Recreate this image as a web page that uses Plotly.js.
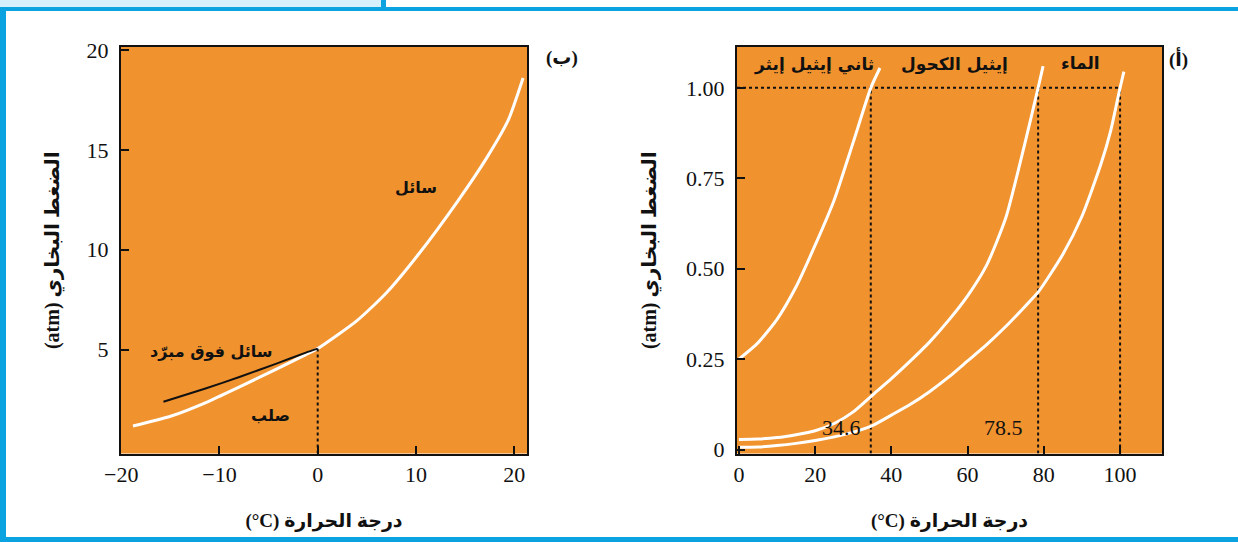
<!DOCTYPE html>
<html>
<head>
<meta charset="utf-8">
<script src="https://cdn.plot.ly/plotly-3.0.1.min.js"></script>
<style>
  html, body { margin: 0; padding: 0; background: #ffffff; }
  #chart { width: 1238px; height: 542px; }
</style>
</head>
<body>
<div id="chart"></div>
<script>
// ---------- Panel (ب): water near its freezing point ----------
const tempIce = [-18.8, -14.9, -11.2, -7.9, -4.2, -1.2, 0];
const pressIce = [1.18, 1.68, 2.39, 3.15, 4.02, 4.75, 5.05];
const tempLiquid = [0, 4, 7, 10.3, 14.2, 17.2, 19.4, 20.9];
const pressLiquid = [5.05, 6.45, 7.85, 9.8, 12.4, 14.6, 16.5, 18.6];
const tempSupercooled = [-15.7, -11.5, -7.9, -4.2, -1.2, 0];
const pressSupercooled = [2.39, 3.04, 3.64, 4.3, 4.85, 5.05];
const freezingPoint = 0;
const xTicksLeft = [-20, -10, 0, 10, 20];
const xTickTextLeft = ['\u221220', '\u221210', '0', '10', '20'];
const yTicksLeft = [5, 10, 15, 20];
const labelsLeft = ['سائل', 'سائل فوق مبرّد', 'صلب'];

// ---------- Panel (أ): three liquids ----------
const tempEther = [0, 5, 10, 15, 20, 25, 30, 34.6, 37.0];
const pressEther = [0.25, 0.295, 0.36, 0.45, 0.565, 0.69, 0.85, 1.0, 1.055];
const tempEthanol = [0, 5, 10, 15, 20, 25, 30, 35, 40, 45, 50, 55, 60, 65, 70, 75, 78.5, 79.8];
const pressEthanol = [0.028, 0.029, 0.033, 0.041, 0.052, 0.072, 0.104, 0.15, 0.196, 0.245, 0.297, 0.357, 0.425, 0.51, 0.64, 0.845, 1.0, 1.06];
const tempWater = [0, 5, 10, 15, 20, 25, 30, 35, 40, 45, 50, 55, 60, 65, 70, 75, 78.5, 85, 90, 95, 97.5, 100, 101];
const pressWater = [0.006, 0.007, 0.011, 0.017, 0.025, 0.035, 0.048, 0.066, 0.095, 0.125, 0.16, 0.20, 0.245, 0.29, 0.34, 0.395, 0.435, 0.54, 0.645, 0.79, 0.88, 1.0, 1.045];
const boilingPoints = [34.6, 78.5, 100];
const boilingLabels = ['34.6', '78.5'];
const standardPressure = 1.0;
const liquidNames = ['ثاني إيثيل إيثر', 'إيثيل الكحول', 'الماء'];
const xTicksRight = [0, 20, 40, 60, 80, 100];
const yTicksRight = [0, 0.25, 0.5, 0.75, 1.0];
const yTickTextRight = ['0', '0.25', '0.50', '0.75', '1.00'];

const panelLabels = ['(ب)', '(أ)'];
const xTitle = '(°C) درجة الحرارة';
const yTitle = '(atm) الضغط البخاري';

// ---------- styling ----------
const ORANGE = '#f0922e';
const BLUE = '#0aa3e0';
const NUM_FONT = 'Liberation Serif, DejaVu Serif, serif';
const AR_FONT = 'DejaVu Sans, sans-serif';
const W = 1238, H = 542;
const px = v => v / W;
const py = v => 1 - v / H;

const xRangeLeft = [-20.02, 21.3];
const yRangeLeft = [-0.2, 20.15];
const xRangeRight = [-0.5, 111];
const yRangeRight = [-0.011, 1.113];

const white = {color: '#ffffff', width: 3, shape: 'spline', smoothing: 0.6};
const dotted = {color: '#111111', width: 2, dash: 'dot'};

const traces = [
  // left panel
  {x: tempIce.concat(tempLiquid.slice(1)), y: pressIce.concat(pressLiquid.slice(1)),
   xaxis: 'x', yaxis: 'y', mode: 'lines', line: white},
  {x: tempSupercooled, y: pressSupercooled, xaxis: 'x', yaxis: 'y', mode: 'lines',
   line: {color: '#111111', width: 2, shape: 'spline', smoothing: 0.6}},
  {x: [freezingPoint, freezingPoint], y: [yRangeLeft[0], pressLiquid[0]], xaxis: 'x', yaxis: 'y',
   mode: 'lines', line: dotted},
  // right panel
  {x: [xRangeRight[0], boilingPoints[2]], y: [standardPressure, standardPressure], xaxis: 'x2', yaxis: 'y2',
   mode: 'lines', line: dotted},
];
boilingPoints.forEach(t => traces.push({x: [t, t], y: [yRangeRight[0], standardPressure], xaxis: 'x2', yaxis: 'y2',
  mode: 'lines', line: dotted}));
[[tempEther, pressEther], [tempEthanol, pressEthanol], [tempWater, pressWater]].forEach(([t, p]) =>
  traces.push({x: t, y: p, xaxis: 'x2', yaxis: 'y2', mode: 'lines', line: white}));

const axisCommon = {
  showline: true, linecolor: '#111111', linewidth: 2, mirror: true,
  ticks: 'inside', ticklen: 8, tickwidth: 2, tickcolor: '#111111',
  showgrid: false, zeroline: false, fixedrange: true,
  tickfont: {family: NUM_FONT, size: 22, color: '#111111'},
  automargin: false
};
const xTitleFont = {family: NUM_FONT + ', ' + AR_FONT, size: 19, color: '#111111', weight: 'bold'};
const yTitleFont = {family: NUM_FONT + ', ' + AR_FONT, size: 20, color: '#111111', weight: 'bold'};

const ann = (xref, yref, x, y, text, size, extra) => Object.assign({
  xref, yref, x, y, text, showarrow: false,
  font: {family: AR_FONT, size: size, color: '#111111', weight: 'bold'}
}, extra || {});
const numFont = {family: NUM_FONT, size: 22, color: '#111111'};
const panelFont = {family: NUM_FONT + ', ' + AR_FONT, size: 19, color: '#111111', weight: 'bold'};

const annotations = [
  ann('x', 'y', 10.0, 13.1, labelsLeft[0], 16),
  ann('x', 'y', -10.8, 4.9, labelsLeft[1], 16),
  ann('x', 'y', -4.8, 1.68, labelsLeft[2], 16),
  ann('x2', 'y2', 19.7, 1.065, liquidNames[0], 17),
  ann('x2', 'y2', 56.6, 1.065, liquidNames[1], 17),
  ann('x2', 'y2', 89.7, 1.07, liquidNames[2], 17),
  ann('x2', 'y2', 27.0, 0.061, boilingLabels[0], 22, {font: numFont}),
  ann('x2', 'y2', 69.3, 0.061, boilingLabels[1], 22, {font: numFont}),
  ann('paper', 'paper', px(562), py(45), panelLabels[0], 19, {font: panelFont}),
  ann('paper', 'paper', px(1190), py(45), panelLabels[1], 19, {font: panelFont})
];

const shapes = [
  {type: 'rect', xref: 'paper', yref: 'paper', x0: 0, x1: px(383), y0: py(7), y1: 1, fillcolor: '#d6f0fb', line: {width: 0}, layer: 'below'},
  {type: 'rect', xref: 'paper', yref: 'paper', x0: px(381), x1: px(386), y0: py(7), y1: 1, fillcolor: BLUE, line: {width: 0}},
  {type: 'rect', xref: 'paper', yref: 'paper', x0: 0, x1: 1, y0: py(11), y1: py(7), fillcolor: BLUE, line: {width: 0}},
  {type: 'rect', xref: 'paper', yref: 'paper', x0: 0, x1: px(6), y0: 0, y1: py(7), fillcolor: BLUE, line: {width: 0}},
  {type: 'rect', xref: 'paper', yref: 'paper', x0: 0, x1: 1, y0: 0, y1: py(537), fillcolor: BLUE, line: {width: 0}}
];

const layout = {
  width: W, height: H,
  margin: {l: 0, r: 0, t: 0, b: 0, autoexpand: false},
  paper_bgcolor: '#ffffff', plot_bgcolor: ORANGE,
  showlegend: false, hovermode: false,
  xaxis: Object.assign({}, axisCommon, {
    domain: [px(121), px(527)], range: xRangeLeft, anchor: 'y',
    tickvals: xTicksLeft, ticktext: xTickTextLeft,
    title: {text: xTitle, font: xTitleFont, standoff: 28}
  }),
  yaxis: Object.assign({}, axisCommon, {
    domain: [py(453.5), py(47)], range: yRangeLeft, anchor: 'x',
    tickvals: yTicksLeft, ticklabelstandoff: 6,
    title: {text: yTitle, font: yTitleFont, standoff: 22}
  }),
  xaxis2: Object.assign({}, axisCommon, {
    domain: [px(737), px(1162)], range: xRangeRight, anchor: 'y2',
    tickvals: xTicksRight,
    title: {text: xTitle, font: xTitleFont, standoff: 28}
  }),
  yaxis2: Object.assign({}, axisCommon, {
    domain: [py(453.5), py(47)], range: yRangeRight, anchor: 'x2',
    tickvals: yTicksRight, ticktext: yTickTextRight, ticklabelstandoff: 6,
    title: {text: yTitle, font: yTitleFont, standoff: 24}
  }),
  annotations: annotations,
  shapes: shapes
};

Plotly.newPlot('chart', traces, layout, {staticPlot: true, displayModeBar: false});
</script>
</body>
</html>
